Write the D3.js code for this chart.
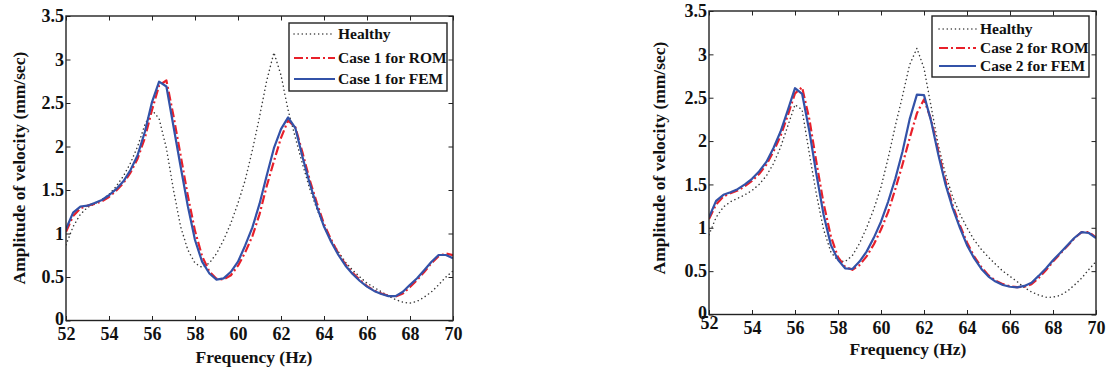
<!DOCTYPE html>
<html>
<head>
<meta charset="utf-8">
<script src="https://cdn.jsdelivr.net/npm/d3@7"></script>
<style>
  body { margin: 0; background: #fff; }
  svg { display: block; }
  svg text { font-family: "Liberation Serif", "Times New Roman", Times, "DejaVu Serif", serif; font-weight: 700; fill: #111; }
</style>
</head>
<body>
<svg id="chart" width="1110" height="372"></svg>
<script>
// ---------------- data ----------------
const frequency = [52,52.33,52.67,53,53.33,53.67,54,54.33,54.67,55,55.33,55.67,56,56.33,56.67,57,57.33,57.67,58,58.33,58.67,59,59.33,59.67,60,60.33,60.67,61,61.33,61.67,62,62.33,62.67,63,63.33,63.67,64,64.33,64.67,65,65.33,65.67,66,66.33,66.67,67,67.33,67.67,68,68.33,68.67,69,69.33,69.67,70];

const healthyLeft = [0.87,1.08,1.22,1.30,1.34,1.39,1.45,1.54,1.66,1.81,2.00,2.25,2.42,2.32,1.98,1.50,1.08,0.81,0.66,0.61,0.66,0.77,0.925,1.12,1.35,1.61,1.96,2.34,2.75,3.08,2.82,2.42,2.10,1.80,1.52,1.28,1.08,0.92,0.79,0.67,0.58,0.50,0.43,0.38,0.33,0.28,0.24,0.21,0.20,0.22,0.27,0.33,0.41,0.50,0.57];
const case1Rom = [1.02,1.20,1.29,1.32,1.34,1.37,1.42,1.49,1.58,1.70,1.86,2.10,2.42,2.70,2.76,2.35,1.90,1.43,1.03,0.74,0.56,0.48,0.47,0.52,0.63,0.78,0.97,1.22,1.54,1.83,2.10,2.30,2.22,1.93,1.62,1.35,1.11,0.93,0.77,0.645,0.55,0.465,0.395,0.345,0.31,0.285,0.275,0.31,0.385,0.465,0.56,0.66,0.74,0.77,0.75];
const case1Fem = [1.05,1.24,1.31,1.32,1.35,1.385,1.44,1.51,1.60,1.73,1.90,2.17,2.51,2.745,2.69,2.23,1.77,1.31,0.925,0.676,0.54,0.47,0.485,0.56,0.676,0.86,1.07,1.34,1.66,1.98,2.20,2.335,2.21,1.88,1.58,1.31,1.08,0.906,0.753,0.63,0.534,0.454,0.389,0.34,0.305,0.28,0.28,0.33,0.41,0.485,0.58,0.676,0.753,0.753,0.715];

const healthyRight = [0.92,1.12,1.24,1.30,1.34,1.38,1.43,1.50,1.60,1.74,1.93,2.18,2.42,2.36,1.85,1.38,0.98,0.72,0.62,0.61,0.68,0.82,1.00,1.22,1.47,1.80,2.18,2.52,2.88,3.07,2.84,2.40,1.95,1.62,1.36,1.16,1.00,0.86,0.75,0.66,0.58,0.50,0.44,0.38,0.31,0.26,0.225,0.20,0.20,0.22,0.27,0.34,0.42,0.52,0.61];
const case2Rom = [1.10,1.27,1.36,1.40,1.43,1.48,1.54,1.62,1.73,1.88,2.06,2.30,2.55,2.62,2.25,1.75,1.28,0.90,0.66,0.55,0.515,0.57,0.67,0.81,0.98,1.18,1.45,1.73,2.03,2.32,2.48,2.25,1.88,1.54,1.26,1.03,0.83,0.67,0.545,0.45,0.39,0.35,0.325,0.315,0.32,0.35,0.42,0.51,0.61,0.70,0.79,0.88,0.95,0.95,0.89];
const case2Fem = [1.12,1.31,1.38,1.41,1.445,1.50,1.565,1.65,1.76,1.92,2.11,2.36,2.61,2.545,2.11,1.61,1.15,0.80,0.63,0.533,0.525,0.61,0.725,0.887,1.07,1.30,1.57,1.88,2.25,2.535,2.53,2.23,1.84,1.50,1.23,1.00,0.80,0.65,0.525,0.437,0.38,0.34,0.32,0.313,0.33,0.367,0.445,0.53,0.625,0.71,0.80,0.885,0.95,0.94,0.88];

const xTicks = [52,54,56,58,60,62,64,66,68,70];
const yTicks = [0,0.5,1,1.5,2,2.5,3,3.5];
const xTitle = "Frequency (Hz)";
const yTitle = "Amplitude of velocity (mm/sec)";
const legendLeft = ["Healthy", "Case 1 for ROM", "Case 1 for FEM"];
const legendRight = ["Healthy", "Case 2 for ROM", "Case 2 for FEM"];

// ---------------- styles ----------------
const FONT = '"Liberation Serif", "Times New Roman", Times, "DejaVu Serif", serif';
const styles = [
  { stroke: "#3a3a3a", width: 1.5, dash: "0.1,4", cap: "round" },
  { stroke: "#e8202a", width: 2.2, dash: "9,3,2,3", cap: "butt" },
  { stroke: "#3352a8", width: 2.2, dash: null, cap: "butt" }
];

const svg = d3.select("#chart");

function drawPanel(cfg) {
  const { left, right, top, bottom, series, names, legend, yTitlePos, xTitlePos, id } = cfg;
  const x = d3.scaleLinear().domain([52, 70]).range([left, right]);
  const y = d3.scaleLinear().domain([0, 3.5]).range([bottom, top]);
  const g = svg.append("g");

  g.append("clipPath").attr("id", id).append("rect")
    .attr("x", left).attr("y", top).attr("width", right - left).attr("height", bottom - top);

  const line = d3.line().x((d, i) => x(frequency[i])).y(d => y(d));
  series.forEach((s, k) => {
    const st = styles[k];
    g.append("path").datum(s)
      .attr("clip-path", `url(#${id})`)
      .attr("fill", "none")
      .attr("stroke", st.stroke)
      .attr("stroke-width", st.width)
      .attr("stroke-linecap", st.cap)
      .attr("stroke-linejoin", "round")
      .attr("stroke-dasharray", st.dash)
      .attr("d", line);
  });

  const tickLen = 4.5;
  const bottomAxis = g.append("g").attr("transform", `translate(0,${bottom})`)
    .call(d3.axisBottom(x).tickValues(xTicks).tickSizeInner(-tickLen).tickSizeOuter(0).tickPadding(7).tickFormat(d3.format("d")));
  const topAxis = g.append("g").attr("transform", `translate(0,${top})`)
    .call(d3.axisTop(x).tickValues(xTicks).tickSizeInner(-tickLen).tickSizeOuter(0).tickFormat(""));
  const leftAxis = g.append("g").attr("transform", `translate(${left},0)`)
    .call(d3.axisLeft(y).tickValues(yTicks).tickSizeInner(-tickLen).tickSizeOuter(0).tickPadding(2).tickFormat(d => String(d)));
  const rightAxis = g.append("g").attr("transform", `translate(${right},0)`)
    .call(d3.axisRight(y).tickValues(yTicks).tickSizeInner(-tickLen).tickSizeOuter(0).tickFormat(""));

  [bottomAxis, topAxis, leftAxis, rightAxis].forEach(a => {
    a.attr("font-family", null).attr("font-size", null);
    a.select(".domain").remove();
    a.selectAll(".tick line").attr("stroke", "#222").attr("stroke-width", 1);
    a.selectAll("text").style("font-family", FONT).style("font-weight", "700")
      .style("font-size", "18px").attr("fill", "#111");
  });
  bottomAxis.selectAll("text").attr("dy", "0.71em");
  leftAxis.selectAll(".tick").filter(d => d === 0).select("text").attr("dy", "0.2em");
  if (cfg.firstXShift) {
    bottomAxis.selectAll(".tick").filter(d => d === 52).select("text").attr("dy", "0.4em");
  }

  g.append("rect").attr("x", left).attr("y", top).attr("width", right - left).attr("height", bottom - top)
    .attr("fill", "none").attr("stroke", "#222").attr("stroke-width", 1.4);

  g.append("text").attr("transform", `translate(${yTitlePos[0]},${yTitlePos[1]}) rotate(-90)`)
    .attr("text-anchor", "middle").attr("dy", "0.35em")
    .style("font-family", FONT).style("font-size", "17.5px").text(yTitle);
  g.append("text").attr("x", xTitlePos[0]).attr("y", xTitlePos[1])
    .attr("text-anchor", "middle")
    .style("font-family", FONT).style("font-size", "17.5px").text(xTitle);

  const L = legend;
  const lg = g.append("g");
  lg.append("rect").attr("x", L.x0).attr("y", L.y0).attr("width", L.x1 - L.x0).attr("height", L.y1 - L.y0)
    .attr("fill", "#fff").attr("stroke", "#222").attr("stroke-width", 1.4);
  names.forEach((nm, k) => {
    const st = styles[k];
    const cy = L.rows[k];
    lg.append("line").attr("x1", L.lx0).attr("x2", L.lx1).attr("y1", cy).attr("y2", cy)
      .attr("stroke", st.stroke).attr("stroke-width", st.width).attr("stroke-dasharray", st.dash)
      .attr("stroke-linecap", st.cap);
    lg.append("text").attr("x", L.tx).attr("y", cy).attr("dy", "0.33em")
      .style("font-family", FONT).style("font-size", "15.5px").text(nm);
  });
}

drawPanel({
  id: "clipL", left: 66, right: 453, top: 16, bottom: 320.5,
  series: [healthyLeft, case1Rom, case1Fem], names: legendLeft,
  legend: { x0: 289, x1: 447, y0: 23, y1: 91, rows: [34, 58, 79], lx0: 294, lx1: 335, tx: 338 },
  yTitlePos: [19, 168], xTitlePos: [254, 363], firstXShift: false
});

drawPanel({
  id: "clipR", left: 709, right: 1096, top: 11, bottom: 314.5,
  series: [healthyRight, case2Rom, case2Fem], names: legendRight,
  legend: { x0: 932, x1: 1089, y0: 16, y1: 77, rows: [29, 48, 66], lx0: 939, lx1: 976, tx: 980 },
  yTitlePos: [659, 158], xTitlePos: [908, 355], firstXShift: true
});
</script>
</body>
</html>
